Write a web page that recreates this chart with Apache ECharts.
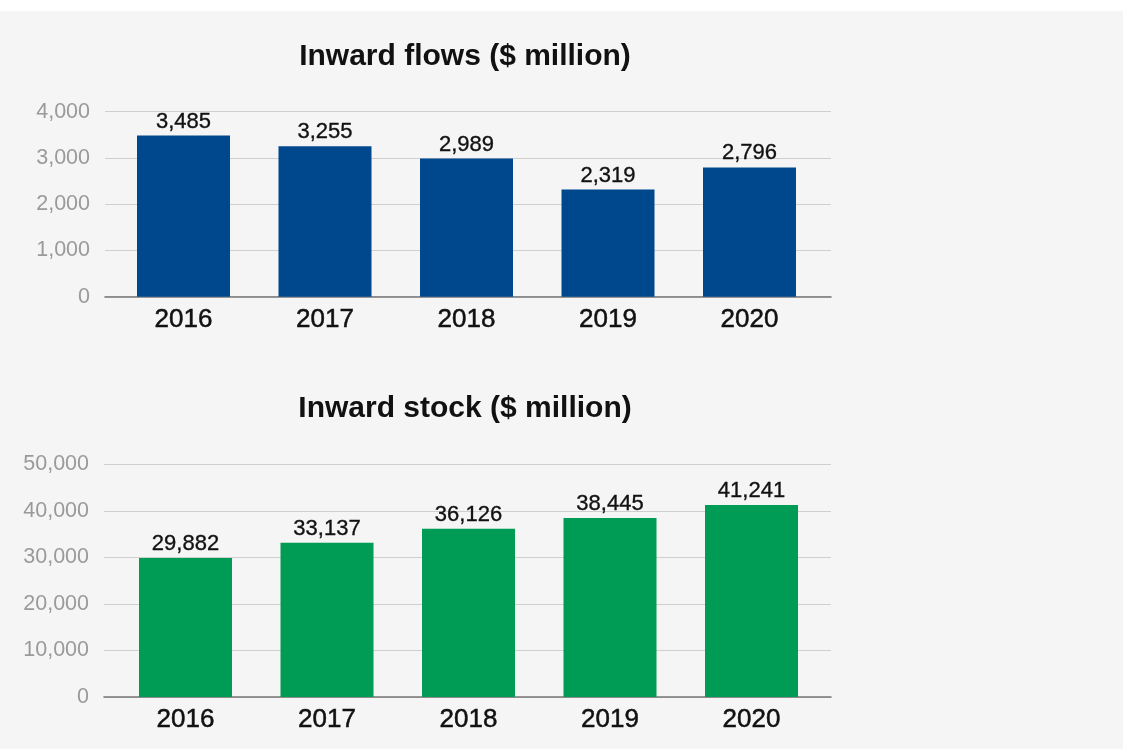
<!DOCTYPE html>
<html>
<head>
<meta charset="utf-8">
<script src="https://cdn.jsdelivr.net/npm/echarts@6/dist/echarts.min.js"></script>
<style>
  html, body { margin: 0; padding: 0; background: #ffffff; }
  #wrap { position: relative; width: 1125px; height: 749px; overflow: hidden; }
  #panel { position: absolute; left: 0; top: 11px; width: 1123px; height: 738px; background: #f5f5f5; }
  #chart { position: absolute; left: 0; top: 0; width: 1125px; height: 749px; }
</style>
</head>
<body>
<div id="wrap">
  <div id="panel"></div>
  <div id="chart"></div>
</div>
<script>
// Foreign direct investment, 2016–2020
const years = ['2016', '2017', '2018', '2019', '2020'];
const inwardFlows = [3485, 3255, 2989, 2319, 2796];
const inwardStock = [29882, 33137, 36126, 38445, 41241];

const flowsTitle = 'Inward flows ($ million)';
const stockTitle = 'Inward stock ($ million)';

const flowsAxis = { min: 0, max: 4000, interval: 1000 };
const stockAxis = { min: 0, max: 50000, interval: 10000 };

const FONT = '"Liberation Sans", Arial, Helvetica, sans-serif';
const fmt = v => Number(v).toLocaleString('en-US');

// Each panel uses a wide "frame" grid for the gridlines/axis line and a
// slightly narrower grid holding the bars and year labels.
function panelGrids(top, height, frameLeft, frameRight, barLeft, barRight) {
  return [
    { left: frameLeft, right: 1125 - frameRight, top: top, height: height, containLabel: false },
    { left: barLeft, right: 1125 - barRight, top: top, height: height, containLabel: false }
  ];
}

const grids = [
  ...panelGrids(111.7, 185, 105, 831, 112.75, 820.25),
  ...panelGrids(464.3, 232.7, 104, 831, 114.75, 822.25)
];

function frameX(gridIndex) {
  return {
    type: 'category', gridIndex: gridIndex, data: years,
    axisLine: { show: true, lineStyle: { color: '#777777', width: 1.6 } },
    axisTick: { show: false }, axisLabel: { show: false }, splitLine: { show: false }
  };
}
function barX(gridIndex) {
  return {
    type: 'category', gridIndex: gridIndex, data: years,
    axisLine: { show: false }, axisTick: { show: false },
    axisLabel: {
      show: true, color: '#111111', fontSize: 26, fontFamily: FONT, margin: 10,
      textBorderColor: '#111111', textBorderWidth: 0.5
    },
    splitLine: { show: false }
  };
}
function frameY(gridIndex, ax) {
  return {
    type: 'value', gridIndex: gridIndex, min: ax.min, max: ax.max, interval: ax.interval,
    axisLine: { show: false }, axisTick: { show: false },
    axisLabel: { show: true, color: '#9a9a9a', fontSize: 21.5, fontFamily: FONT, margin: 15, formatter: fmt },
    splitLine: { show: true, lineStyle: { color: '#cfcfcf', width: 1 } }
  };
}
function barY(gridIndex, ax) {
  return {
    type: 'value', gridIndex: gridIndex, min: ax.min, max: ax.max, interval: ax.interval,
    show: false, splitLine: { show: false }
  };
}

function barSeries(axisIndex, data, color, labelDist) {
  return {
    type: 'bar', xAxisIndex: axisIndex, yAxisIndex: axisIndex,
    data: data, barWidth: 93,
    itemStyle: { color: color },
    label: {
      show: true, position: 'top', distance: labelDist,
      color: '#111111', fontSize: 22, fontFamily: FONT, formatter: p => fmt(p.value),
      textBorderColor: '#111111', textBorderWidth: 0.35
    },
    silent: true, animation: false
  };
}

const titleStyle = { color: '#111111', fontSize: 30, fontWeight: 'bold', fontFamily: FONT };

const option = {
  backgroundColor: 'transparent',
  animation: false,
  title: [
    { text: flowsTitle, left: 460, top: 37, textAlign: 'center', textStyle: titleStyle },
    { text: stockTitle, left: 460, top: 389, textAlign: 'center', textStyle: titleStyle }
  ],
  grid: grids,
  xAxis: [frameX(0), barX(1), frameX(2), barX(3)],
  yAxis: [frameY(0, flowsAxis), barY(1, flowsAxis), frameY(2, stockAxis), barY(3, stockAxis)],
  series: [
    barSeries(1, inwardFlows, '#00488d', 3),
    barSeries(3, inwardStock, '#009b55', 3)
  ]
};

const chart = echarts.init(document.getElementById('chart'), null, { renderer: 'canvas' });
chart.setOption(option);
</script>
</body>
</html>
